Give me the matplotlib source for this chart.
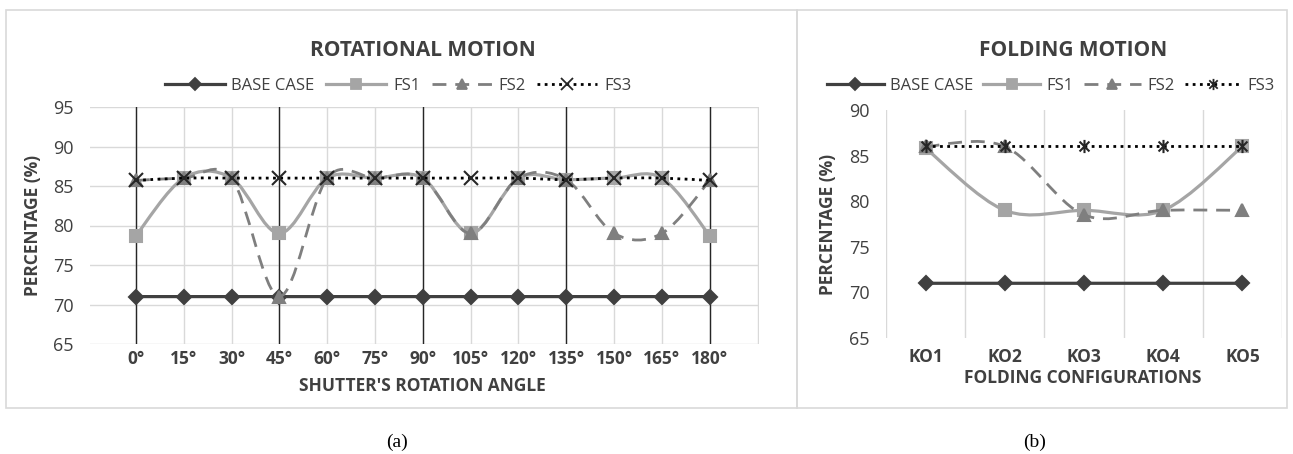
import numpy as np
import matplotlib
matplotlib.use("Agg")
import matplotlib.pyplot as plt
from matplotlib.path import Path
from matplotlib.patches import PathPatch, Rectangle
from matplotlib.lines import Line2D

# ---- data ----
angles = ["0°", "15°", "30°", "45°", "60°", "75°", "90°", "105°", "120°", "135°", "150°", "165°", "180°"]
rot_base = [71, 71, 71, 71, 71, 71, 71, 71, 71, 71, 71, 71, 71]
rot_fs1 = [78.7, 86, 86, 79, 86, 86, 86, 79, 86, 85.8, 86, 86, 78.7]
rot_fs2 = [85.7, 86, 86, 71, 86, 86, 86, 79, 86, 85.8, 79, 79, 85.7]
rot_fs3 = [85.7, 86, 86, 86, 86, 86, 86, 86, 86, 85.8, 86, 86, 85.7]

configs = ["KO1", "KO2", "KO3", "KO4", "KO5"]
fold_base = [71, 71, 71, 71, 71]
fold_fs1 = [85.8, 79, 79, 79, 86]
fold_fs2 = [86, 86, 78.5, 79, 79]
fold_fs3 = [86, 86, 86, 86, 86]

series_names = ["BASE CASE", "FS1", "FS2", "FS3"]

W, H = 1293, 454
TXT = "#404040"
GRID = "#D9D9D9"
plt.rcParams['font.family'] = ['Open Sans', 'DejaVu Sans']


def px(x, y):
    return x / W, 1 - y / H


def smooth_path(x, y):
    pts = np.column_stack([x, y]).astype(float)
    n = len(pts)
    verts = [pts[0]]
    codes = [Path.MOVETO]
    for i in range(n - 1):
        p0 = pts[i - 1] if i > 0 else pts[i]
        p1, p2 = pts[i], pts[i + 1]
        p3 = pts[i + 2] if i + 2 < n else pts[i + 1]
        verts += [p1 + (p2 - p0) / 6, p2 - (p3 - p1) / 6, p2]
        codes += [Path.CURVE4] * 3
    return Path(verts, codes)


star = Path([(0, -1), (0, 1), (-0.75, -0.75), (0.75, 0.75), (-0.75, 0.75), (0.75, -0.75)],
            [Path.MOVETO, Path.LINETO, Path.MOVETO, Path.LINETO, Path.MOVETO, Path.LINETO])


def styles(fs3_marker):
    return [
        dict(color="#404040", lw=2.3, ls="-", marker="D", ms=7, mfc="#404040", mec="#404040"),
        dict(color="#A5A5A5", lw=2.3, ls="-", marker="s", ms=8, mfc="#A5A5A5", mec="#A5A5A5"),
        dict(color="#7F7F7F", lw=2.0, ls=(0, (5, 3.2)), marker="^", ms=8.5, mfc="#7F7F7F", mec="#7F7F7F"),
        dict(color="#000000", lw=2.0, ls=(0, (1, 1.6)), marker=fs3_marker, ms=9.5, mfc="none", mec="#262626"),
    ]


def draw(ax, x, data, st):
    for k, (y, s) in enumerate(zip(data, st)):
        ax.add_patch(PathPatch(smooth_path(x, y), fill=False, edgecolor=s["color"], lw=s["lw"],
                               linestyle=s["ls"], zorder=3 + k, capstyle="butt"))
        ax.plot(x, y, linestyle="none", marker=s["marker"], ms=s["ms"], mfc=s["mfc"],
                mec=s["mec"], mew=1.5, zorder=3.5 + k)


def handles(st):
    return [Line2D([], [], color=s["color"], lw=s["lw"], ls=s["ls"], marker=s["marker"],
                   ms=s["ms"] * 0.85, mfc=s["mfc"], mec=s["mec"], mew=1.3) for s in st]


fig = plt.figure(figsize=(W / 100, H / 100), dpi=100)

# panel frames
for x0, x1 in [(6, 797), (797, 1287)]:
    fig.patches.append(Rectangle(px(x0, 408), (x1 - x0) / W, 398 / H, transform=fig.transFigure,
                                 fill=False, edgecolor=GRID, lw=1.2))

# ---- (a) rotational ----
ax1 = fig.add_axes([90 / W, 110 / H, 669 / W, 237 / H])
xa = np.arange(len(angles))
st1 = styles("x")
draw(ax1, xa, [rot_base, rot_fs1, rot_fs2, rot_fs3], st1)
ax1.set_xlim(-0.96, 13.03)
ax1.set_ylim(65, 95)
ax1.set_yticks(np.arange(65, 96, 5))
ax1.set_xticks(xa)
ax1.set_xticklabels(angles, fontweight="bold", fontsize=12.5, color=TXT)
for v in range(-1, 14):
    ax1.axvline(v, color=GRID, lw=1, zorder=0)
for v in range(65, 96, 5):
    ax1.axhline(v, color=GRID, lw=1, zorder=0)
for v in [0, 3, 6, 9, 12]:
    ax1.axvline(v, color="#262626", lw=1, zorder=1)
ax1.tick_params(axis="y", length=0, pad=12, labelsize=13, labelcolor=TXT)
ax1.tick_params(axis="x", length=0, pad=4)
for sp in ax1.spines.values():
    sp.set_visible(False)

fig.text(*px(423, 51), "ROTATIONAL MOTION", ha="center", va="center", fontsize=15,
         fontweight="bold", color=TXT)
fig.legend(handles(st1), series_names, loc="center", bbox_to_anchor=px(398, 86), ncol=4,
           frameon=False, fontsize=12, labelcolor=TXT, handlelength=3.6, columnspacing=0.7,
           handletextpad=0.4)
fig.text(*px(33, 225), "PERCENTAGE (%)", rotation=90, ha="center", va="center",
         fontsize=12.5, fontweight="bold", color=TXT)
fig.text(*px(422, 386), "SHUTTER'S ROTATION ANGLE", ha="center", va="center",
         fontsize=12.5, fontweight="bold", color=TXT)

# ---- (b) folding ----
ax2 = fig.add_axes([886 / W, 116 / H, 396 / W, 228 / H])
xb = np.arange(len(configs))
st2 = styles(star)
draw(ax2, xb, [fold_base, fold_fs1, fold_fs2, fold_fs3], st2)
ax2.set_xlim(-0.5, 4.5)
ax2.set_ylim(65, 90)
ax2.set_yticks(np.arange(65, 91, 5))
ax2.set_xticks(xb)
ax2.set_xticklabels(configs, fontweight="bold", fontsize=12.5, color=TXT)
for v in np.arange(-0.5, 5, 1):
    ax2.axvline(v, color=GRID, lw=1, zorder=0)
ax2.tick_params(axis="y", length=0, pad=12, labelsize=13, labelcolor=TXT)
ax2.tick_params(axis="x", length=0, pad=7)
for sp in ax2.spines.values():
    sp.set_visible(False)

fig.text(*px(1073, 51), "FOLDING MOTION", ha="center", va="center", fontsize=15,
         fontweight="bold", color=TXT)
fig.legend(handles(st2), series_names, loc="center", bbox_to_anchor=px(1051, 86), ncol=4,
           frameon=False, fontsize=12, labelcolor=TXT, handlelength=3.4, columnspacing=0.6,
           handletextpad=0.4)
fig.text(*px(828, 224), "PERCENTAGE (%)", rotation=90, ha="center", va="center",
         fontsize=12.5, fontweight="bold", color=TXT)
fig.text(*px(1083, 378), "FOLDING CONFIGURATIONS", ha="center", va="center",
         fontsize=12.5, fontweight="bold", color=TXT)

# captions
fig.text(*px(397, 442), "(a)", ha="center", va="center", fontsize=14, family="Liberation Serif")
fig.text(*px(1035, 442), "(b)", ha="center", va="center", fontsize=14, family="Liberation Serif")

fig.savefig("out.png", dpi=100)
